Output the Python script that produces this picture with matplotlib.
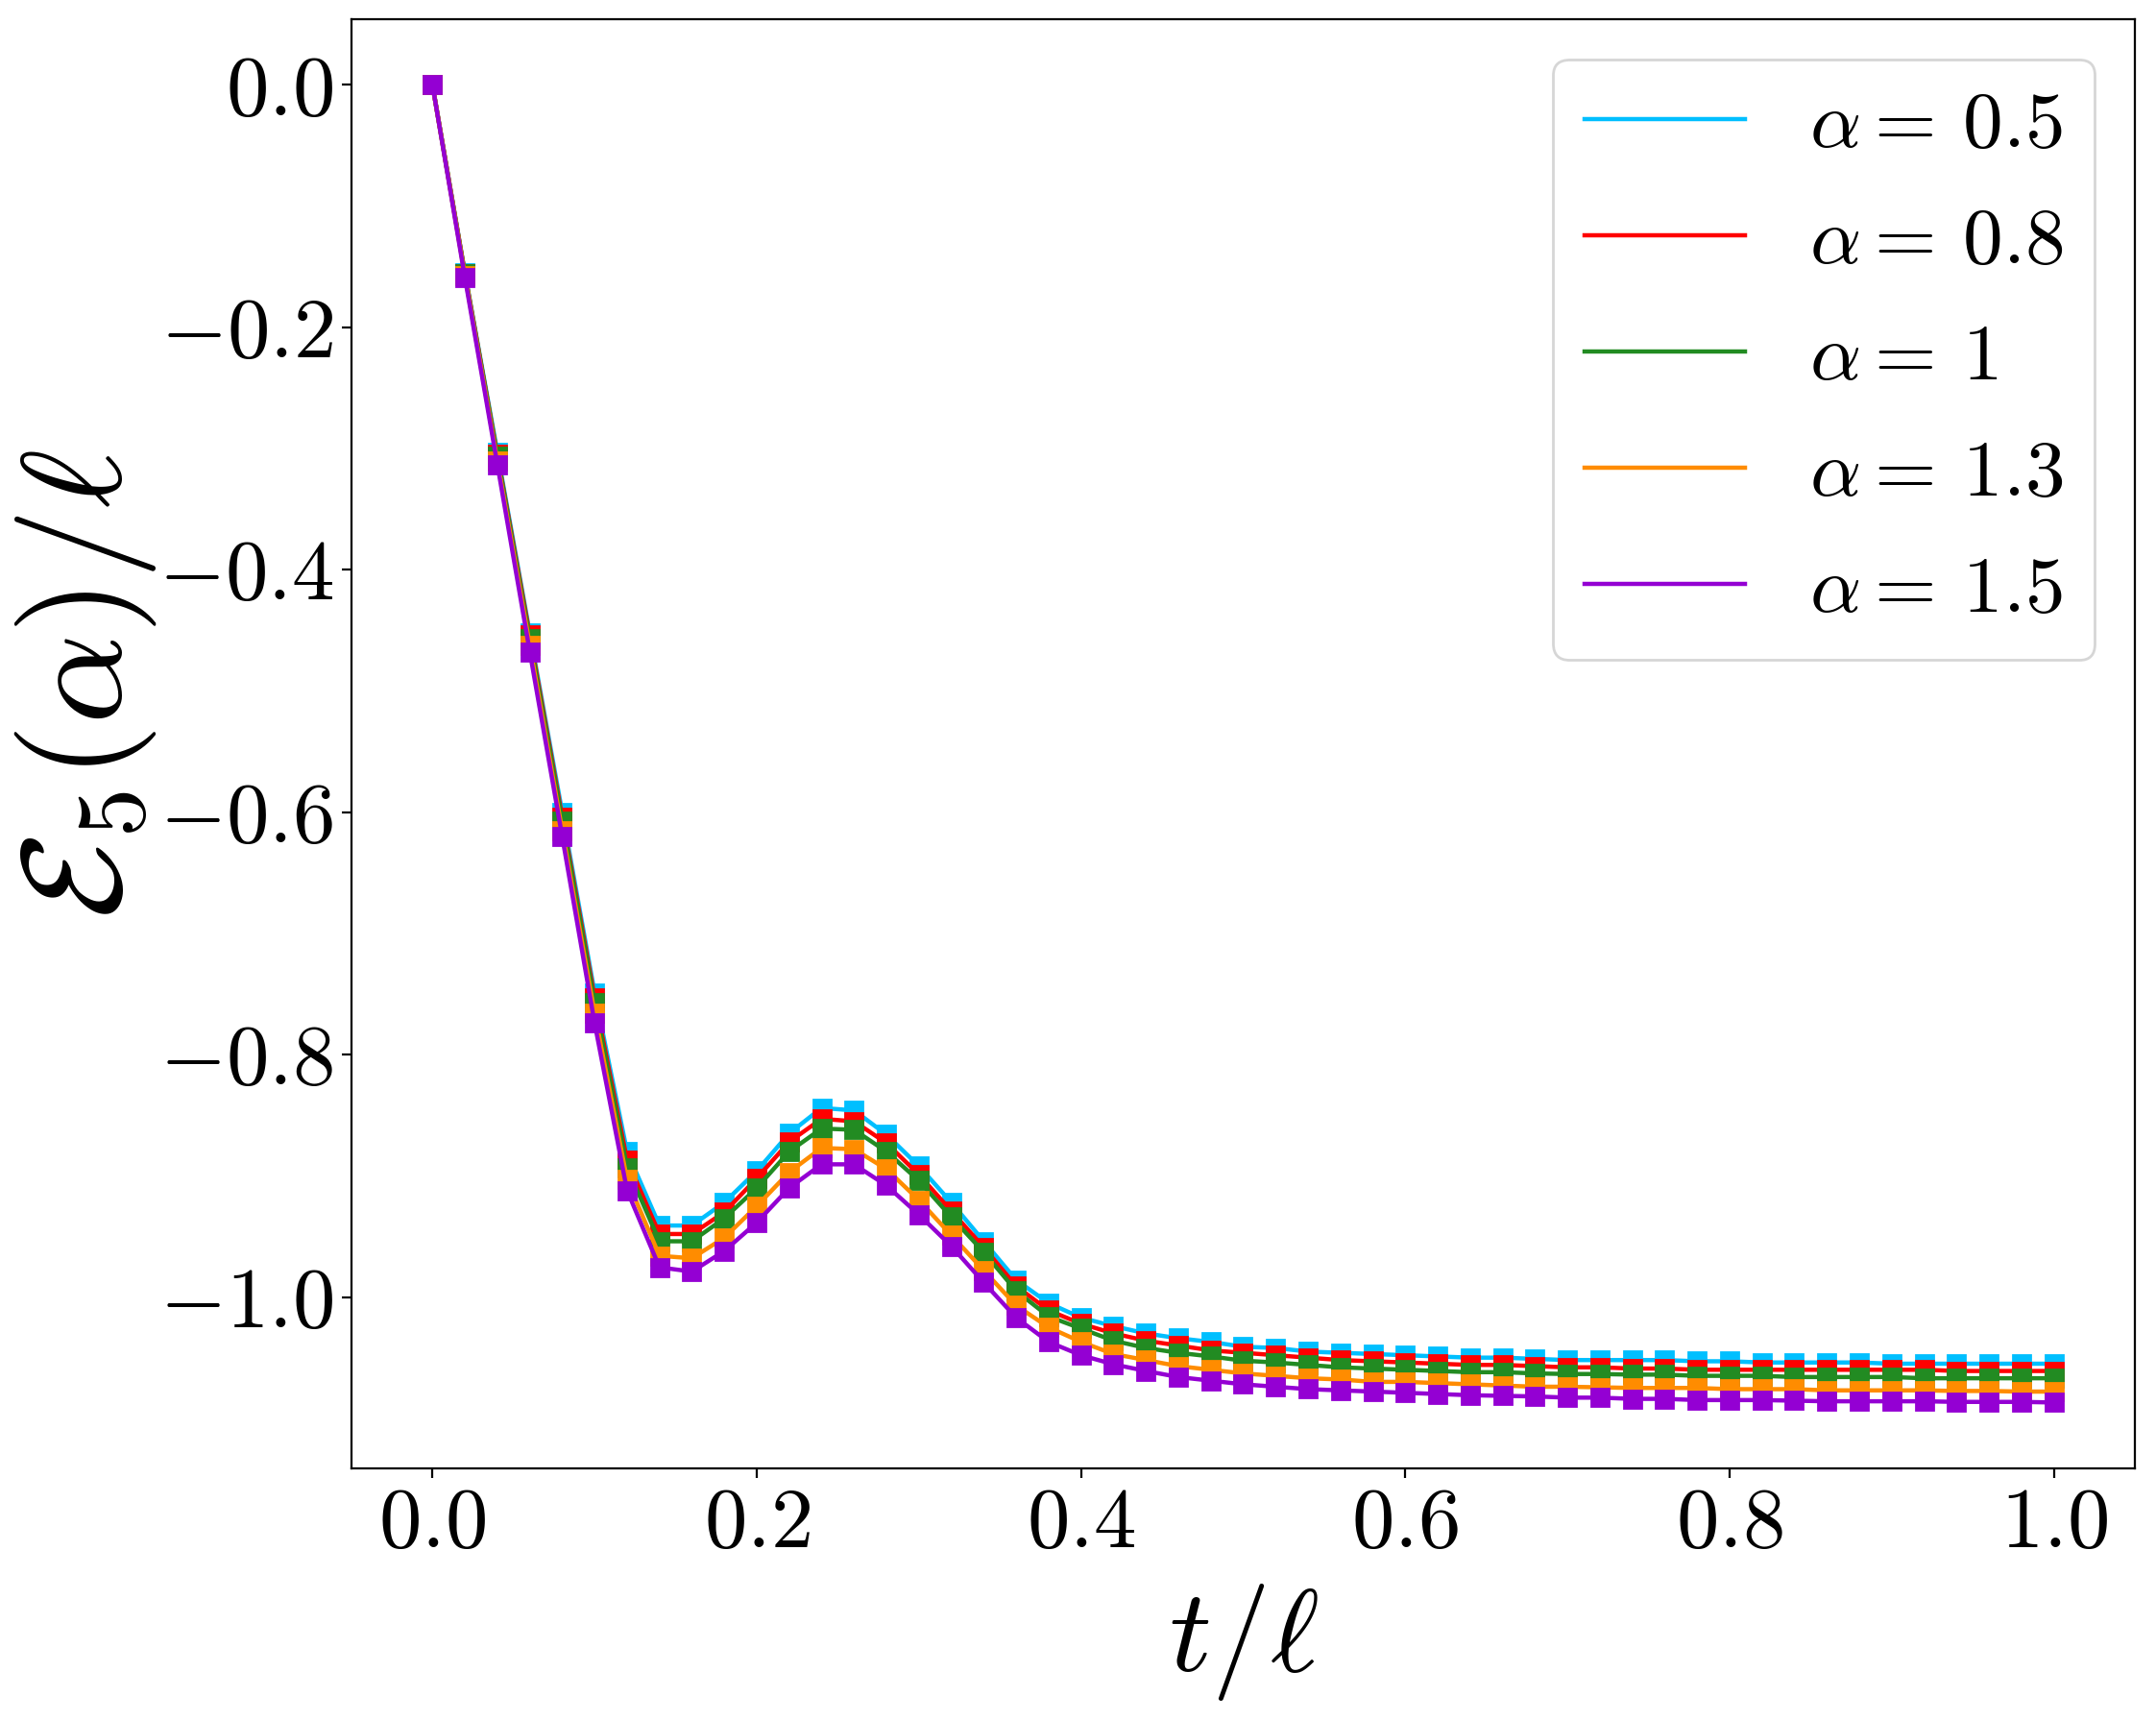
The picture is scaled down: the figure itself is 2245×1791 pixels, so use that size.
import numpy as np
import matplotlib
matplotlib.use("Agg")
import matplotlib.pyplot as plt
from matplotlib.ticker import FuncFormatter

plt.rcParams["mathtext.fontset"] = "cm"
plt.rcParams["font.family"] = "serif"
plt.rcParams["font.serif"] = ["cmr10", "DejaVu Serif"]
plt.rcParams["axes.formatter.use_mathtext"] = True

t = np.linspace(0.0, 1.0, 51)

e_05 = [0.0, -0.155, -0.303, -0.452, -0.600, -0.749, -0.880, -0.941, -0.941, -0.922,
        -0.896, -0.865, -0.844, -0.846, -0.866, -0.892, -0.922, -0.954, -0.986, -1.005,
        -1.017, -1.024, -1.030, -1.034, -1.037, -1.041, -1.042, -1.045, -1.046, -1.047,
        -1.048, -1.049, -1.050, -1.050, -1.051, -1.052, -1.052, -1.052, -1.052, -1.053,
        -1.053, -1.054, -1.054, -1.054, -1.054, -1.055, -1.055, -1.055, -1.055, -1.055,
        -1.055]
e_08 = [0.0, -0.1555, -0.305, -0.454, -0.604, -0.753, -0.887, -0.948, -0.948, -0.930,
        -0.902, -0.872, -0.853, -0.855, -0.873, -0.899, -0.929, -0.959, -0.991, -1.011,
        -1.022, -1.030, -1.036, -1.040, -1.044, -1.046, -1.048, -1.050, -1.052, -1.053,
        -1.054, -1.055, -1.056, -1.056, -1.057, -1.058, -1.058, -1.059, -1.059, -1.060,
        -1.060, -1.060, -1.060, -1.060, -1.060, -1.060, -1.060, -1.061, -1.061, -1.061,
        -1.061]
e_10 = [0.0, -0.156, -0.306, -0.457, -0.607, -0.757, -0.893, -0.954, -0.954, -0.935,
        -0.910, -0.880, -0.861, -0.862, -0.880, -0.904, -0.934, -0.963, -0.995, -1.016,
        -1.026, -1.036, -1.042, -1.046, -1.049, -1.0525, -1.054, -1.056, -1.058, -1.059,
        -1.060, -1.061, -1.062, -1.062, -1.063, -1.0635, -1.0635, -1.064, -1.064, -1.065,
        -1.065, -1.065, -1.066, -1.066, -1.066, -1.066, -1.067, -1.067, -1.067, -1.067,
        -1.067]
e_13 = [0.0, -0.157, -0.310, -0.462, -0.615, -0.766, -0.903, -0.966, -0.968, -0.951,
        -0.925, -0.897, -0.877, -0.878, -0.8945, -0.920, -0.949, -0.978, -1.007, -1.025,
        -1.037, -1.047, -1.052, -1.057, -1.060, -1.063, -1.065, -1.067, -1.068, -1.070,
        -1.070, -1.071, -1.072, -1.073, -1.074, -1.074, -1.0745, -1.075, -1.075, -1.075,
        -1.076, -1.076, -1.076, -1.077, -1.077, -1.077, -1.077, -1.0775, -1.0775, -1.078,
        -1.078]
e_15 = [0.0, -0.159, -0.313, -0.4675, -0.620, -0.774, -0.912, -0.9755, -0.979, -0.962,
        -0.9385, -0.910, -0.8905, -0.8905, -0.908, -0.932, -0.958, -0.988, -1.017, -1.037,
        -1.048, -1.0555, -1.061, -1.066, -1.069, -1.072, -1.074, -1.076, -1.077, -1.078,
        -1.079, -1.080, -1.081, -1.0815, -1.082, -1.083, -1.083, -1.084, -1.084, -1.085,
        -1.085, -1.085, -1.0855, -1.086, -1.086, -1.086, -1.086, -1.0865, -1.0865, -1.0865,
        -1.087]

series = [e_05, e_08, e_10, e_13, e_15]
labels = [r"$\alpha =\, 0.5$", r"$\alpha =\, 0.8$", r"$\alpha =\, 1$",
          r"$\alpha =\, 1.3$", r"$\alpha =\, 1.5$"]
colors = ["deepskyblue", "red", "forestgreen", "darkorange", "darkviolet"]

fig = plt.figure(figsize=(11.225, 8.955), dpi=200)
ax = fig.add_axes([0.163, 0.1463, 0.8272, 0.8426])

for y, lab, col in zip(series, labels, colors):
    ax.plot(t, y, color=col, lw=1.6, label=lab)
    ax.plot(t, y, "s", color=col, ms=6.8, mew=1.0)

ax.set_xticks([0.0, 0.2, 0.4, 0.6, 0.8, 1.0])
ax.set_yticks([0.0, -0.2, -0.4, -0.6, -0.8, -1.0])
fmt = FuncFormatter(lambda v, pos: f"${v:.1f}$")
ax.xaxis.set_major_formatter(fmt)
ax.yaxis.set_major_formatter(fmt)
ax.tick_params(labelsize=32)

ax.set_xlabel(r"$t/\ell$", fontsize=44, labelpad=7)
ax.set_ylabel(r"$\mathcal{E}_5(\alpha)/\ell$", fontsize=53)
ax.yaxis.set_label_coords(-0.108, 0.541)
ax.legend(loc="upper right", fontsize=30, labelspacing=0.56)

fig.savefig("out.png", dpi=200)
